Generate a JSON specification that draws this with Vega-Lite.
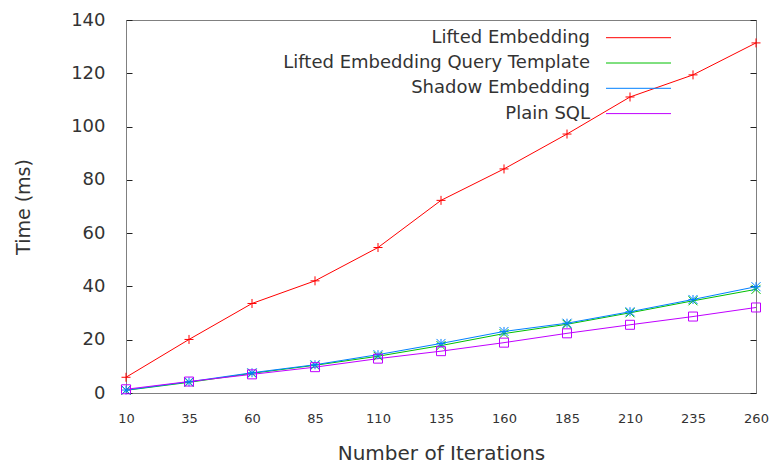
{
  "$schema": "https://vega.github.io/schema/vega-lite/v6.json",
  "width": 630,
  "height": 373,
  "autosize": "none",
  "padding": {"left": 126, "top": 20, "right": 13, "bottom": 70},
  "background": "white",
  "config": {
    "view": {"stroke": "#808080", "strokeWidth": 1},
    "font": "DejaVu Sans",
    "axis": {
      "grid": false,
      "domainColor": "#808080",
      "tickColor": "#222",
      "labelFont": "DejaVu Sans",
      "labelColor": "#333",
      "titleFont": "DejaVu Sans",
      "titleFontWeight": "normal",
      "titleColor": "#333"
    }
  },
  "data": {
    "values": [
      {"n": 10, "series": "Lifted Embedding", "t": 5.9},
      {"n": 35, "series": "Lifted Embedding", "t": 20.1},
      {"n": 60, "series": "Lifted Embedding", "t": 33.6},
      {"n": 85, "series": "Lifted Embedding", "t": 42.1},
      {"n": 110, "series": "Lifted Embedding", "t": 54.6},
      {"n": 135, "series": "Lifted Embedding", "t": 72.3},
      {"n": 160, "series": "Lifted Embedding", "t": 84.1},
      {"n": 185, "series": "Lifted Embedding", "t": 97.2},
      {"n": 210, "series": "Lifted Embedding", "t": 111.1},
      {"n": 235, "series": "Lifted Embedding", "t": 119.4},
      {"n": 260, "series": "Lifted Embedding", "t": 131.4},
      {"n": 10, "series": "Lifted Embedding Query Template", "t": 1.0},
      {"n": 35, "series": "Lifted Embedding Query Template", "t": 4.0},
      {"n": 60, "series": "Lifted Embedding Query Template", "t": 7.4},
      {"n": 85, "series": "Lifted Embedding Query Template", "t": 10.4},
      {"n": 110, "series": "Lifted Embedding Query Template", "t": 13.8},
      {"n": 135, "series": "Lifted Embedding Query Template", "t": 17.8},
      {"n": 160, "series": "Lifted Embedding Query Template", "t": 22.3},
      {"n": 185, "series": "Lifted Embedding Query Template", "t": 25.8},
      {"n": 210, "series": "Lifted Embedding Query Template", "t": 30.1},
      {"n": 235, "series": "Lifted Embedding Query Template", "t": 34.6},
      {"n": 260, "series": "Lifted Embedding Query Template", "t": 38.9},
      {"n": 10, "series": "Shadow Embedding", "t": 1.1},
      {"n": 35, "series": "Shadow Embedding", "t": 4.2},
      {"n": 60, "series": "Shadow Embedding", "t": 7.6},
      {"n": 85, "series": "Shadow Embedding", "t": 10.6},
      {"n": 110, "series": "Shadow Embedding", "t": 14.4},
      {"n": 135, "series": "Shadow Embedding", "t": 18.6},
      {"n": 160, "series": "Shadow Embedding", "t": 23.1},
      {"n": 185, "series": "Shadow Embedding", "t": 26.2},
      {"n": 210, "series": "Shadow Embedding", "t": 30.5},
      {"n": 235, "series": "Shadow Embedding", "t": 35.1},
      {"n": 260, "series": "Shadow Embedding", "t": 39.9},
      {"n": 10, "series": "Plain SQL", "t": 1.4},
      {"n": 35, "series": "Plain SQL", "t": 4.3},
      {"n": 60, "series": "Plain SQL", "t": 7.0},
      {"n": 85, "series": "Plain SQL", "t": 9.7},
      {"n": 110, "series": "Plain SQL", "t": 12.9},
      {"n": 135, "series": "Plain SQL", "t": 15.7},
      {"n": 160, "series": "Plain SQL", "t": 18.9},
      {"n": 185, "series": "Plain SQL", "t": 22.4},
      {"n": 210, "series": "Plain SQL", "t": 25.6},
      {"n": 235, "series": "Plain SQL", "t": 28.7},
      {"n": 260, "series": "Plain SQL", "t": 32.1}
    ]
  },
  "encoding": {
    "x": {
      "field": "n",
      "type": "quantitative",
      "scale": {"domain": [10, 260], "nice": false, "zero": false},
      "axis": {
        "orient": "bottom",
        "values": [10, 35, 60, 85, 110, 135, 160, 185, 210, 235, 260],
        "offset": 17,
        "ticks": false,
        "domain": false,
        "labelFontSize": 13,
        "labelBaseline": "top",
        "labelFlush": false,
        "title": "Number of Iterations",
        "titleFontSize": 20,
        "titleBaseline": "middle",
        "titleX": 315,
        "titleY": 43
      }
    },
    "color": {
      "field": "series",
      "type": "nominal",
      "scale": {
        "domain": ["Lifted Embedding", "Lifted Embedding Query Template", "Shadow Embedding", "Plain SQL"],
        "range": ["#ff0000", "#00c000", "#0080ff", "#c000ff"]
      },
      "legend": {
        "title": null,
        "orient": "none",
        "legendX": 458.5,
        "legendY": 8.7,
        "direction": "vertical",
        "padding": 0,
        "symbolType": "M-6.5,0H6.5",
        "labelAlign": "right",
        "labelOffset": -57.5,
        "symbolOffset": 45,
        "symbolSize": 100,
        "symbolStrokeWidth": 1,
        "symbolOpacity": 1,
        "labelFont": "DejaVu Sans",
        "labelFontSize": 18,
        "labelColor": "#333",
        "labelLimit": 0,
        "rowPadding": 7.3
      }
    }
  },
  "layer": [
    {
      "mark": {"type": "line", "strokeWidth": 1},
      "encoding": {
        "y": {
          "field": "t",
          "type": "quantitative",
          "scale": {"domain": [0, 140], "nice": false},
          "axis": {
            "orient": "left",
            "values": [0, 20, 40, 60, 80, 100, 120, 140],
            "tickSize": -6,
            "labelFontSize": 18,
            "labelPadding": 27,
            "title": "Time (ms)",
            "titleFontSize": 19,
            "titleAngle": -90,
            "titleBaseline": "middle",
            "titleX": -103,
            "titleY": 186.5
          }
        }
      }
    },
    {
      "mark": {"type": "point", "filled": false, "size": 81, "strokeWidth": 1, "opacity": 1},
      "encoding": {
        "y": {
          "field": "t",
          "type": "quantitative",
          "axis": {
            "orient": "right",
            "values": [0, 20, 40, 60, 80, 100, 120, 140],
            "tickSize": -6,
            "labels": false,
            "domain": false,
            "title": null
          }
        },
        "shape": {
          "field": "series",
          "type": "nominal",
          "scale": {
            "domain": ["Plain SQL", "Shadow Embedding", "Lifted Embedding Query Template", "Lifted Embedding"],
            "range": ["M-1,-1H1V1H-1Z", "M-1,0H1M0,-1V1M-1,-1L1,1M-1,1L1,-1", "M-1,-1L1,1M-1,1L1,-1", "M-1,0H1M0,-1V1"]
          },
          "legend": null
        }
      }
    }
  ]
}
